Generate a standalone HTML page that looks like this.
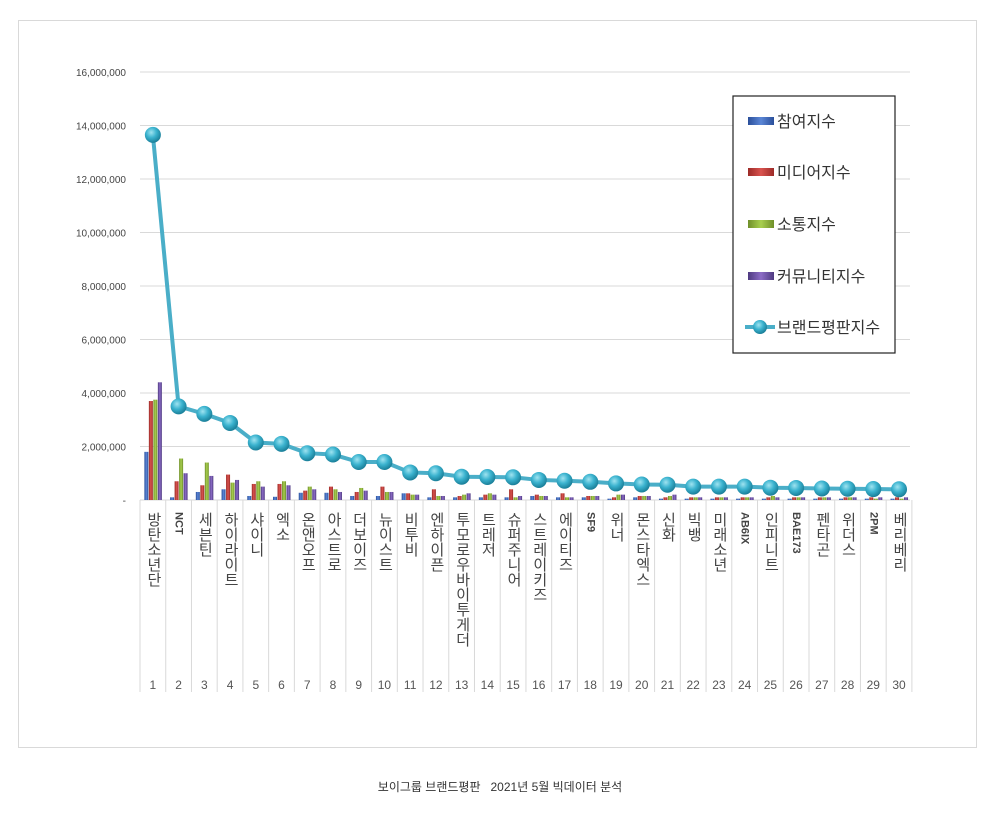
<!DOCTYPE html>
<html><head><meta charset="utf-8"><style>
body{margin:0;background:#fff;width:1000px;height:825px;overflow:hidden;font-family:"Liberation Sans","Noto Sans CJK KR",sans-serif;}
.box{position:absolute;left:18px;top:20px;width:959px;height:728px;border:1px solid #d9d9d9;box-sizing:border-box;}
.cap{position:absolute;top:778px;left:0;width:1000px;text-align:center;font-size:12px;color:#333;}
</style></head><body>
<div class="box"></div>
<svg id="s" width="1000" height="825" style="position:absolute;left:0;top:0" font-family="Liberation Sans, Noto Sans CJK KR, sans-serif">
<defs>
<radialGradient id="ball" cx="40%" cy="35%" r="65%"><stop offset="0" stop-color="#9fe3f0"/><stop offset="0.5" stop-color="#3bb3cf"/><stop offset="1" stop-color="#1a7f99"/></radialGradient>
<linearGradient id="gb" x1="0" x2="1"><stop offset="0" stop-color="#2a4f9a"/><stop offset="0.5" stop-color="#5b86d6"/><stop offset="1" stop-color="#2a4f9a"/></linearGradient>
<linearGradient id="gr" x1="0" x2="1"><stop offset="0" stop-color="#9c2a27"/><stop offset="0.5" stop-color="#d9534f"/><stop offset="1" stop-color="#9c2a27"/></linearGradient>
<linearGradient id="gg" x1="0" x2="1"><stop offset="0" stop-color="#6f8f2a"/><stop offset="0.5" stop-color="#a8cf4f"/><stop offset="1" stop-color="#6f8f2a"/></linearGradient>
<linearGradient id="gp" x1="0" x2="1"><stop offset="0" stop-color="#4e3a80"/><stop offset="0.5" stop-color="#8c6cc6"/><stop offset="1" stop-color="#4e3a80"/></linearGradient>
</defs>
</svg>
<div class="cap">보이그룹 브랜드평판 &nbsp;&nbsp;2021년 5월 빅데이터 분석</div>
<div id="lab"></div>
<script>
var s=document.getElementById('s'),h='';
function Y(v){return 500-v*26.75;}
for(var i=0;i<=8;i++){var y=Y(i*2);h+='<line x1="140" x2="910" y1="'+y+'" y2="'+y+'" stroke="#d9d9d9"/>';
h+='<text x="126" y="'+(y+4)+'" font-size="10" fill="#444" text-anchor="end">'+(i==0?'-':(i*2).toLocaleString('en')+',000,000')+'</text>';}
var x0=140,st=25.73;
for(var i=0;i<=30;i++){var x=x0+i*st;h+='<line x1="'+x+'" x2="'+x+'" y1="500" y2="692" stroke="#d9d9d9"/>';}
var names=['방탄소년단','NCT','세븐틴','하이라이트','샤이니','엑소','온앤오프','아스트로','더보이즈','뉴이스트','비투비','엔하이픈','투모로우바이투게더','트레저','슈퍼주니어','스트레이키즈','에이티즈','SF9','위너','몬스타엑스','신화','빅뱅','미래소년','AB6IX','인피니트','BAE173','펜타곤','위더스','2PM','베리베리'];
var bars=[[1.8,3.7,3.75,4.4],[0.1,0.7,1.55,1.0],[0.3,0.55,1.4,0.9],[0.4,0.95,0.65,0.75],[0.15,0.6,0.7,0.5],[0.12,0.6,0.7,0.55],[0.27,0.35,0.5,0.4],[0.27,0.5,0.4,0.3],[0.15,0.3,0.45,0.35],[0.15,0.5,0.3,0.3],[0.25,0.25,0.2,0.2],[0.1,0.4,0.15,0.15],[0.1,0.15,0.2,0.25],[0.1,0.2,0.25,0.2],[0.1,0.4,0.1,0.15],[0.15,0.2,0.15,0.15],[0.1,0.25,0.1,0.1],[0.1,0.15,0.15,0.15],[0.05,0.1,0.2,0.2],[0.1,0.15,0.15,0.15],[0.05,0.1,0.15,0.2],[0.05,0.1,0.1,0.1],[0.05,0.1,0.1,0.1],[0.05,0.1,0.1,0.1],[0.05,0.1,0.15,0.1],[0.05,0.1,0.1,0.1],[0.05,0.1,0.1,0.1],[0.05,0.1,0.1,0.1],[0.05,0.1,0.05,0.1],[0.05,0.1,0.05,0.1]];
var line=[13.65,3.5,3.22,2.88,2.15,2.1,1.75,1.7,1.42,1.42,1.03,1.0,0.87,0.86,0.85,0.75,0.72,0.68,0.62,0.58,0.57,0.5,0.5,0.5,0.46,0.45,0.43,0.42,0.41,0.40];
var g=['url(#gb)','url(#gr)','url(#gg)','url(#gp)'],pts=[];
for(var i=0;i<30;i++){var cx=x0+i*st+st/2;
for(var k=0;k<4;k++){var v=bars[i][k];h+='<rect x="'+(cx-8.5+k*4.5)+'" y="'+Y(v)+'" width="4" height="'+(v*26.75)+'" fill="'+g[k]+'"/>';}
pts.push(cx+','+Y(line[i]));
h+='<text x="'+cx+'" y="689" font-size="12" fill="#555" text-anchor="middle">'+(i+1)+'</text>';}
h+='<polyline points="'+pts.join(' ')+'" fill="none" stroke="#4aaec8" stroke-width="4"/>';
for(var i=0;i<30;i++){var p=pts[i].split(',');h+='<circle cx="'+p[0]+'" cy="'+p[1]+'" r="8" fill="url(#ball)"/>';}
h+='<rect x="733" y="96" width="162" height="257" fill="#fff" stroke="#222" stroke-width="1.2"/>';
var ln=['참여지수','미디어지수','소통지수','커뮤니티지수'],ly=[121,172,224,276];
for(var k=0;k<4;k++){h+='<rect x="748" y="'+(ly[k]-4)+'" width="26" height="8" fill="'+g[k]+'"/><text x="777" y="'+(ly[k]+6)+'" font-size="16" fill="#333">'+ln[k]+'</text>';}
h+='<line x1="745" x2="775" y1="327" y2="327" stroke="#4aaec8" stroke-width="4"/><circle cx="760" cy="327" r="7" fill="url(#ball)"/><text x="777" y="333" font-size="16" fill="#333">브랜드평판지수</text>';
s.innerHTML+=h;
var L='';
for(var i=0;i<30;i++){var cx=x0+i*st+st/2;
L+='<div style="position:absolute;left:'+(cx-9)+'px;top:512px;width:18px;height:160px;writing-mode:vertical-rl;text-orientation:mixed;font-size:15px;line-height:18px;color:#444;font-family:\'Liberation Sans\',\'Noto Sans CJK KR\',sans-serif;'+(/[A-Z0-9]/.test(names[i])?'font-weight:bold;font-size:11px;':'')+'">'+names[i]+'</div>';}
document.getElementById('lab').innerHTML=L;
</script>
</body></html>
